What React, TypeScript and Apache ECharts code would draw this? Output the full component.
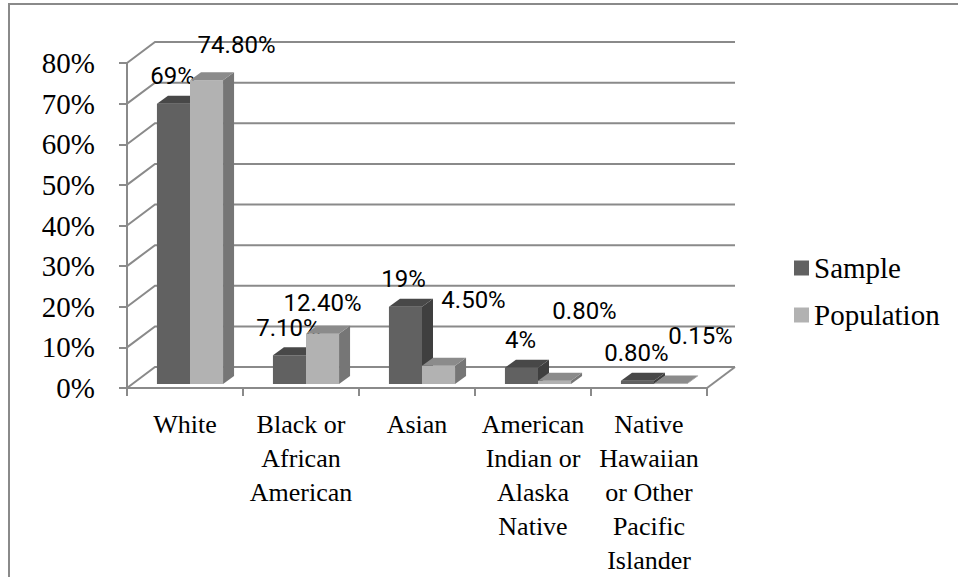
import React, { useEffect, useRef } from "react";
import * as echarts from "echarts";

const categories = [
  "White",
  "Black or\nAfrican\nAmerican",
  "Asian",
  "American\nIndian or\nAlaska\nNative",
  "Native\nHawaiian\nor Other\nPacific\nIslander",
];
const sampleValues = [0.69, 0.071, 0.19, 0.04, 0.008];
const populationValues = [0.748, 0.124, 0.045, 0.008, 0.0015];
const sampleLabels = ["69%", "7.10%", "19%", "4%", "0.80%"];
const populationLabels = ["74.80%", "12.40%", "4.50%", "0.80%", "0.15%"];
const yTicks = [0, 0.1, 0.2, 0.3, 0.4, 0.5, 0.6, 0.7, 0.8];

// label nudges (px) relative to the default spot above each bar
const sampleLabelShift = [[-1, 0], [-1, 1], [-2, 0], [-1, 0], [-1, 0]];
const populationLabelShift = [[30, -7], [0, -3], [35, -38], [30, -42], [30, -19]];

const WALL_DX = 28;
const WALL_DY = -21;
const BAR_OFF_X = 5;
const BAR_OFF_Y = -4;
const BAR_DX = 11;
const BAR_DY = -8;
const GRID_COLOR = "#8a8a8a";
const SERIF = "Liberation Serif, DejaVu Serif, serif";

function makeBarRender(
  side: number,
  colors: { front: string; top: string; side: string },
  labels: string[],
  shifts: number[][]
) {
  return (params: any, api: any) => {
    const i = api.value(0);
    const v = api.value(1);
    const idx = params.dataIndex;
    const base = api.coord([i, 0]);
    const tp = api.coord([i, v]);
    const bw = api.size([1, 0])[0] * 0.285;
    const left = base[0] + side * bw + BAR_OFF_X;
    const right = left + bw;
    const bottom = base[1] + BAR_OFF_Y;
    const top = tp[1] + BAR_OFF_Y;
    const sh = shifts[idx] || [0, 0];
    return {
      type: "group",
      children: [
        {
          type: "rect",
          shape: { x: left, y: top, width: bw, height: Math.max(bottom - top, 0.5) },
          style: { fill: colors.front },
        },
        {
          type: "polygon",
          shape: {
            points: [
              [right, top],
              [right + BAR_DX, top + BAR_DY],
              [right + BAR_DX, bottom + BAR_DY],
              [right, bottom],
            ],
          },
          style: { fill: colors.side },
        },
        {
          type: "polygon",
          shape: {
            points: [
              [left, top],
              [right, top],
              [right + BAR_DX, top + BAR_DY],
              [left + BAR_DX, top + BAR_DY],
            ],
          },
          style: { fill: colors.top },
        },
        {
          type: "text",
          z2: 100,
          style: {
            text: labels[idx],
            x: left + bw / 2 + sh[0],
            y: top - 28 + sh[1],
            align: "center",
            verticalAlign: "middle",
            fontSize: 24,
            fontFamily: "Roboto, Open Sans, sans-serif",
            fill: "#000",
          },
        },
      ],
    };
  };
}

export default function App() {
  const ref = useRef<HTMLDivElement>(null);

  useEffect(() => {
    if (!ref.current) return;
    const chart = echarts.init(ref.current, undefined, { renderer: "svg" });

    const wallRender = (params: any, api: any) => {
      const v = api.value(1);
      const cs = params.coordSys;
      const L = cs.x;
      const R = cs.x + cs.width;
      const y = api.coord([0, v])[1];
      const children: any[] = [
        {
          type: "polyline",
          shape: {
            points: [
              [L, y],
              [L + WALL_DX, y + WALL_DY],
              [R + WALL_DX, y + WALL_DY],
            ],
          },
          style: { stroke: GRID_COLOR, lineWidth: 2, fill: "none" },
        },
      ];
      if (v === 0) {
        children.push({
          type: "line",
          shape: { x1: R, y1: y, x2: R + WALL_DX, y2: y + WALL_DY },
          style: { stroke: GRID_COLOR, lineWidth: 2 },
        });
      }
      return { type: "group", children };
    };

    chart.setOption({
      animation: false,
      backgroundColor: "#ffffff",
      graphic: [
        {
          type: "rect",
          shape: { x: 9, y: 4, width: 1000, height: 1000 },
          style: { fill: "none", stroke: GRID_COLOR, lineWidth: 2 },
          z: 0,
        },
      ],
      grid: {
        left: 127,
        top: 63,
        width: 580,
        height: 325,
        containLabel: false,
        outerBoundsMode: "none",
      },
      legend: {
        orient: "vertical",
        left: 794,
        top: 252,
        padding: 0,
        itemWidth: 15,
        itemHeight: 15,
        itemGap: 15,
        icon: "rect",
        data: ["Sample", "Population"],
        textStyle: {
          fontSize: 29,
          fontFamily: SERIF,
          color: "#000",
          lineHeight: 32,
        },
      },
      xAxis: {
        type: "category",
        data: categories,
        axisLine: { show: true, lineStyle: { color: GRID_COLOR, width: 2 } },
        axisTick: { show: true, length: 8, lineStyle: { color: GRID_COLOR, width: 2 } },
        axisLabel: {
          interval: 0,
          margin: 19,
          fontSize: 26,
          lineHeight: 34,
          fontFamily: SERIF,
          color: "#000",
        },
        splitLine: { show: false },
      },
      yAxis: {
        type: "value",
        min: 0,
        max: 0.8,
        interval: 0.1,
        axisLine: { show: true, lineStyle: { color: GRID_COLOR, width: 2 } },
        axisTick: { show: true, length: 8, lineStyle: { color: GRID_COLOR, width: 2 } },
        axisLabel: {
          margin: 32,
          fontSize: 29,
          fontFamily: SERIF,
          color: "#000",
          formatter: (v: number) => Math.round(v * 100) + "%",
        },
        splitLine: { show: false },
      },
      series: [
        {
          type: "custom",
          name: "walls",
          z: 1,
          silent: true,
          renderItem: wallRender,
          data: yTicks.map((t) => [0, t]),
        },
        {
          type: "custom",
          name: "Sample",
          z: 2,
          itemStyle: { color: "#616161" },
          renderItem: makeBarRender(
            -1,
            { front: "#616161", top: "#484848", side: "#3f3f3f" },
            sampleLabels,
            sampleLabelShift
          ),
          data: sampleValues.map((v, i) => [i, v]),
        },
        {
          type: "custom",
          name: "Population",
          z: 3,
          itemStyle: { color: "#b2b2b2" },
          renderItem: makeBarRender(
            0,
            { front: "#b2b2b2", top: "#8b8b8b", side: "#767676" },
            populationLabels,
            populationLabelShift
          ),
          data: populationValues.map((v, i) => [i, v]),
        },
      ],
    });

    return () => {
      chart.dispose();
    };
  }, []);

  return (
    <div
      ref={ref}
      style={{ position: "fixed", left: 0, top: 0, width: 958, height: 577, background: "#fff" }}
    />
  );
}
